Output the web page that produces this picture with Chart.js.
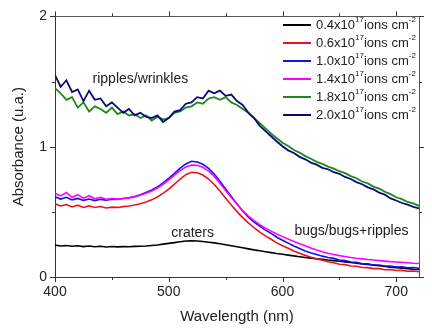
<!DOCTYPE html>
<html>
<head>
<meta charset="utf-8">
<script src="https://cdn.jsdelivr.net/npm/chart.js@4.4.1/dist/chart.umd.min.js"></script>
<style>
  html, body { margin: 0; padding: 0; background: #ffffff; }
  #wrap { width: 432px; height: 333px; position: relative; }
</style>
</head>
<body>
<div id="wrap"><canvas id="absChart"></canvas></div>
<script>
// Longueurs d'onde (nm)
const wavelengths = [
  400, 405, 410, 415, 420, 425, 430, 435, 440, 445, 450, 455, 460, 465, 470, 475,
  480, 485, 490, 495, 500, 505, 510, 515, 520, 525, 530, 535, 540, 545, 550, 555,
  560, 565, 570, 575, 580, 585, 590, 595, 600, 605, 610, 615, 620, 625, 630, 635,
  640, 645, 650, 655, 660, 665, 670, 675, 680, 685, 690, 695, 700, 705, 710, 715, 720
];

// Absorbance par fluence
const abs04 = [
  0.245, 0.238, 0.242, 0.236, 0.240, 0.233, 0.238, 0.232, 0.236, 0.230, 0.234, 0.231, 0.233, 0.232, 0.235, 0.236,
  0.238, 0.242, 0.246, 0.252, 0.258, 0.264, 0.270, 0.276, 0.278,
  0.276, 0.272, 0.267, 0.262, 0.255, 0.248, 0.240, 0.232, 0.224, 0.216,
  0.208, 0.201, 0.194, 0.187, 0.180, 0.174, 0.168, 0.162, 0.156, 0.150,
  0.145, 0.140, 0.135, 0.130, 0.126, 0.121, 0.116, 0.111, 0.106, 0.101,
  0.096, 0.091, 0.086, 0.081, 0.076, 0.072, 0.068, 0.064, 0.060, 0.057
];
const abs06 = [
  0.562, 0.545, 0.556, 0.538, 0.551, 0.534, 0.546, 0.533, 0.541, 0.530, 0.536, 0.534, 0.540, 0.545, 0.552,
  0.562, 0.575, 0.592, 0.614, 0.642, 0.675, 0.712, 0.752, 0.785, 0.803,
  0.800, 0.783, 0.752, 0.710, 0.660, 0.605, 0.552, 0.502, 0.456, 0.415,
  0.378, 0.345, 0.316, 0.290, 0.262, 0.240, 0.220, 0.200, 0.182, 0.166,
  0.152, 0.139, 0.128, 0.117,
  0.110, 0.098, 0.095, 0.084, 0.082, 0.073, 0.072, 0.064, 0.064, 0.056, 0.057, 0.050, 0.051, 0.044, 0.046, 0.040
];
const abs10 = [
  0.615, 0.598, 0.612, 0.592, 0.603, 0.588, 0.598, 0.586, 0.596, 0.590, 0.597, 0.596, 0.602, 0.608, 0.618,
  0.632, 0.648, 0.668, 0.692, 0.722, 0.757, 0.795, 0.835, 0.868, 0.888,
  0.882, 0.865, 0.834, 0.790, 0.735, 0.675, 0.617, 0.560, 0.507, 0.460,
  0.422, 0.390, 0.360, 0.335, 0.305, 0.282, 0.260, 0.238, 0.218, 0.200,
  0.185, 0.172, 0.160, 0.150,
  0.143, 0.130, 0.126, 0.115, 0.112, 0.102, 0.101, 0.092, 0.092, 0.084, 0.084, 0.077, 0.078, 0.071, 0.073, 0.067
];
const abs14 = [
  0.642, 0.622, 0.648, 0.612, 0.632, 0.603, 0.624, 0.600, 0.612, 0.596, 0.602, 0.598, 0.602, 0.607, 0.615,
  0.627, 0.642, 0.660, 0.683, 0.712, 0.745, 0.782, 0.817, 0.845, 0.860,
  0.857, 0.842, 0.813, 0.772, 0.720, 0.664, 0.610, 0.558, 0.510, 0.468,
  0.432, 0.402, 0.375, 0.352, 0.330, 0.310, 0.291, 0.273, 0.256, 0.240,
  0.222, 0.207, 0.194, 0.182,
  0.172, 0.164, 0.157, 0.150, 0.144, 0.139, 0.134, 0.130, 0.126, 0.122, 0.118, 0.115, 0.112, 0.109, 0.106, 0.104
];
const abs18 = [
  1.450, 1.410, 1.360, 1.380, 1.300, 1.340, 1.270, 1.310, 1.290, 1.260, 1.300, 1.250, 1.270, 1.240, 1.250, 1.220,
  1.240, 1.200, 1.230, 1.210, 1.220, 1.260, 1.270, 1.300, 1.310, 1.340, 1.330, 1.370, 1.380, 1.360, 1.380, 1.340,
  1.320, 1.290, 1.260, 1.220, 1.180, 1.140, 1.100, 1.065, 1.030, 1.005, 0.975, 0.955, 0.928, 0.908, 0.884, 0.868,
  0.847, 0.832, 0.812, 0.797, 0.774, 0.758, 0.733, 0.718, 0.694, 0.678, 0.654, 0.636, 0.612, 0.598, 0.576, 0.565, 0.546
];
const abs20 = [
  1.550, 1.460, 1.510, 1.420, 1.440, 1.350, 1.430, 1.360, 1.370, 1.310, 1.340, 1.300, 1.260, 1.290, 1.240, 1.260,
  1.230, 1.220, 1.240, 1.190, 1.220, 1.270, 1.280, 1.330, 1.340, 1.380, 1.370, 1.430, 1.410, 1.430, 1.390, 1.400,
  1.350, 1.320, 1.260, 1.220, 1.160, 1.120, 1.080, 1.040, 1.003, 0.972, 0.952, 0.922, 0.903, 0.878, 0.862, 0.838,
  0.827, 0.804, 0.792, 0.768, 0.752, 0.728, 0.712, 0.688, 0.672, 0.648, 0.632, 0.603, 0.587, 0.568, 0.555, 0.538, 0.526
];

const fluences = ['0.4', '0.6', '1.0', '1.4', '1.8', '2.0'];
const seriesColors = ['#000000', '#e8141c', '#1010f0', '#ff00ff', '#1a8a1a', '#0a0a78'];
const xTickLabels = [400, 500, 600, 700];
const xMinorTicks = [450, 550, 650];
const yTickLabels = [0, 1, 2];
const yMinorTicks = [0.5, 1.5];

const FONT = "'Liberation Sans', Arial, Helvetica, sans-serif";
const allSeries = [abs04, abs06, abs10, abs14, abs18, abs20];

// Légende avec exposants
const legendPlugin = {
  id: 'supLegend',
  afterDraw(chart) {
    const ctx = chart.ctx;
    ctx.save();
    ctx.textBaseline = 'middle';
    fluences.forEach((f, i) => {
      const y = 25 + i * 18;
      ctx.strokeStyle = seriesColors[i];
      ctx.lineWidth = 2;
      ctx.beginPath();
      ctx.moveTo(283, y);
      ctx.lineTo(311, y);
      ctx.stroke();
      ctx.fillStyle = '#222';
      let x = 316;
      ctx.font = '13px ' + FONT;
      const a = f + 'x10';
      ctx.fillText(a, x, y);
      x += ctx.measureText(a).width;
      ctx.font = '8px ' + FONT;
      ctx.fillText('17', x, y - 5);
      x += ctx.measureText('17').width;
      ctx.font = '13px ' + FONT;
      ctx.fillText('ions cm', x, y);
      x += ctx.measureText('ions cm').width;
      ctx.font = '8px ' + FONT;
      ctx.fillText('-2', x, y - 5);
    });
    ctx.restore();
  }
};

// Annotations + graduations
const extrasPlugin = {
  id: 'extras',
  afterDraw(chart) {
    const ctx = chart.ctx;
    const xs = chart.scales.x, ys = chart.scales.y;
    const { left, right, top, bottom } = chart.chartArea;
    ctx.save();
    ctx.strokeStyle = '#333';
    ctx.lineWidth = 1;
    ctx.beginPath();
    const xt = (v, len) => {
      const px = Math.round(xs.getPixelForValue(v)) + 0.5;
      ctx.moveTo(px, bottom); ctx.lineTo(px, bottom + len);
      ctx.moveTo(px, top); ctx.lineTo(px, top - len);
    };
    const yt = (v, len) => {
      const py = Math.round(ys.getPixelForValue(v)) + 0.5;
      ctx.moveTo(left, py); ctx.lineTo(left - len, py);
      ctx.moveTo(right, py); ctx.lineTo(right + len, py);
    };
    xTickLabels.forEach(v => xt(v, 5));
    xMinorTicks.forEach(v => xt(v, 3));
    yTickLabels.forEach(v => yt(v, 5));
    yMinorTicks.forEach(v => yt(v, 3));
    ctx.stroke();

    ctx.fillStyle = '#222';
    ctx.font = '14px ' + FONT;
    ctx.textBaseline = 'middle';
    ctx.textAlign = 'left';
    ctx.fillText('ripples/wrinkles', xs.getPixelForValue(433), ys.getPixelForValue(1.52));
    ctx.fillText('bugs/bugs+ripples', xs.getPixelForValue(610.5), ys.getPixelForValue(0.355));
    ctx.textAlign = 'center';
    ctx.fillText('craters', xs.getPixelForValue(521), ys.getPixelForValue(0.34));
    ctx.restore();
  }
};

const drawOrder = [5, 4, 3, 2, 1, 0];

new Chart(document.getElementById('absChart'), {
  type: 'line',
  data: {
    datasets: allSeries.map((s, i) => ({
      label: fluences[i] + 'x10^17 ions cm^-2',
      data: s.map((v, k) => ({ x: wavelengths[k], y: v })),
      borderColor: seriesColors[i],
      borderWidth: i >= 4 ? 1.8 : 1.6,
      pointRadius: 0,
      tension: 0,
      fill: false,
      order: drawOrder[i],
    })),
  },
  options: {
    responsive: true,
    maintainAspectRatio: false,
    animation: false,
    layout: { padding: 0 },
    plugins: { legend: { display: false }, tooltip: { enabled: false } },
    scales: {
      x: {
        type: 'linear', position: 'bottom', min: 400, max: 720,
        afterBuildTicks: s => { s.ticks = xTickLabels.map(v => ({ value: v })); },
        afterFit: s => { s.height = 56; },
        grid: { display: false, drawTicks: false },
        border: { display: true, color: '#333', width: 1 },
        ticks: { padding: 7, color: '#222', font: { family: FONT, size: 14 }, maxRotation: 0 },
        title: { display: true, text: 'Wavelength (nm)', color: '#222', font: { family: FONT, size: 15 }, padding: { top: 0, bottom: 7 } },
      },
      y: {
        type: 'linear', position: 'left', min: 0, max: 2,
        afterBuildTicks: s => { s.ticks = yTickLabels.map(v => ({ value: v })); },
        afterFit: s => { s.width = 55; },
        grid: { display: false, drawTicks: false },
        border: { display: true, color: '#333', width: 1 },
        ticks: { padding: 8, color: '#222', font: { family: FONT, size: 14 } },
        title: { display: true, text: 'Absorbance (u.a.)', color: '#222', font: { family: FONT, size: 15 }, padding: { top: 10, bottom: 0 } },
      },
      x2: {
        type: 'linear', position: 'top', min: 400, max: 720,
        afterFit: s => { s.height = 14; },
        grid: { display: false, drawTicks: false },
        border: { display: true, color: '#555', width: 1 },
        ticks: { display: false },
      },
      y2: {
        type: 'linear', position: 'right', min: 0, max: 2,
        afterFit: s => { s.width = 13; },
        grid: { display: false, drawTicks: false },
        border: { display: true, color: '#555', width: 1 },
        ticks: { display: false },
      },
    },
  },
  plugins: [legendPlugin, extrasPlugin],
});
</script>
</body>
</html>
